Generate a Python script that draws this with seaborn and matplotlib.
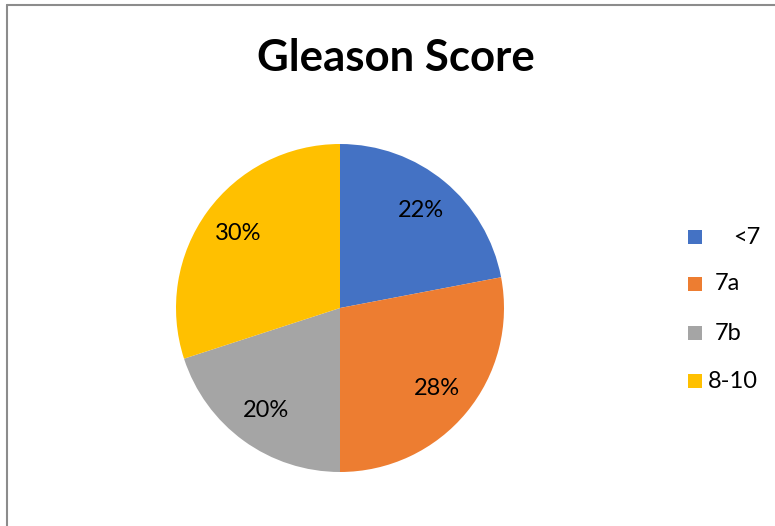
import matplotlib
matplotlib.use("Agg")
import matplotlib.pyplot as plt
from matplotlib.lines import Line2D
from matplotlib.patches import Rectangle
import seaborn as sns

# Gleason score distribution
categories = ["<7", "7a", "7b", "8-10"]
shares = [22, 28, 20, 30]
colors = ["#4472C4", "#ED7D31", "#A5A5A5", "#FFC000"]

sns.set_theme(style="white")
plt.rcParams["font.family"] = ["Lato", "DejaVu Sans"]

W, H = 775, 526
fig = plt.figure(figsize=(W / 100, H / 100), dpi=100)
fig.patch.set_facecolor("white")

# pie axes: centre (340, 308) px, radius 164 px
cx, cy, r = 340, 308, 164
ax = fig.add_axes([(cx - r) / W, (H - cy - r) / H, 2 * r / W, 2 * r / H])
ax.pie(
    shares,
    colors=colors,
    startangle=90,
    counterclock=False,
    autopct=lambda p: f"{p:.0f}%",
    pctdistance=0.77,
    radius=1.0,
    wedgeprops=dict(linewidth=0),
    textprops=dict(fontsize=17, color="#000000"),
)
ax.set_xlim(-1, 1)
ax.set_ylim(-1, 1)
ax.set_aspect("equal")
ax.axis("off")

# title
fig.text(396 / W, 1 - 58 / H, "Gleason Score", ha="center", va="center",
         fontsize=31.5, fontweight="bold", color="#000000")

# legend entries
rows_y = [237, 284, 333, 381]
text_x = [733, 715, 715, 708]
for lab, col, y, tx in zip(categories, colors, rows_y, text_x):
    fig.patches.append(Rectangle((688 / W, 1 - (y + 7) / H), 14 / W, 14 / H,
                                 transform=fig.transFigure, facecolor=col,
                                 edgecolor="none"))
    fig.text(tx / W, 1 - y / H, lab, ha="left", va="center",
             fontsize=17, color="#000000")

# outer frame (left and top edges)
frame_col = "#8C8C8C"
fig.add_artist(Line2D([6.5 / W, 6.5 / W], [0, 1 - 4.5 / H],
                      transform=fig.transFigure, color=frame_col, linewidth=1.5))
fig.add_artist(Line2D([6.5 / W, 1], [1 - 4.5 / H, 1 - 4.5 / H],
                      transform=fig.transFigure, color=frame_col, linewidth=1.5))

fig.savefig("out.png", dpi=100)
